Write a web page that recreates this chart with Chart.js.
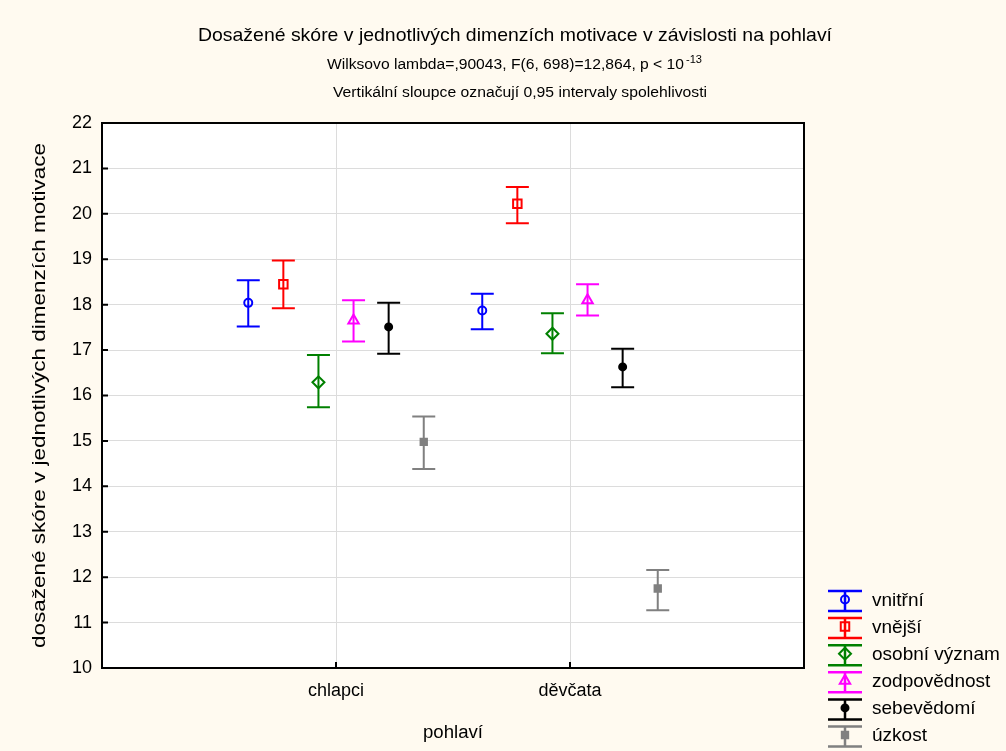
<!doctype html>
<html lang="cs">
<head>
<meta charset="utf-8">
<script src="https://cdn.jsdelivr.net/npm/chart.js"></script>
<style>
    html, body { margin: 0; padding: 0; background: #fffaf0; }
</style>
</head>
<body>
<canvas id="scoreChart" width="1006" height="751"></canvas>
<script>
    // data
    const groups = ['chlapci', 'děvčata'];
    const seriesNames = ['vnitřní', 'vnější', 'osobní význam', 'zodpovědnost', 'sebevědomí', 'úzkost'];
    const meanValues = [
        [18.04, 17.87],
        [18.45, 20.22],
        [16.29, 17.36],
        [17.65, 18.10],
        [17.51, 16.63],
        [14.98, 11.75]
    ];
    const lowerCI = [
        [17.52, 17.46],
        [17.92, 19.79],
        [15.74, 16.93],
        [17.19, 17.76],
        [16.92, 16.18],
        [14.38, 11.27]
    ];
    const upperCI = [
        [18.54, 18.24],
        [18.97, 20.59],
        [16.89, 17.81],
        [18.10, 18.45],
        [18.04, 17.03],
        [15.54, 12.16]
    ];
    const yMin = 10, yMax = 22;

    const seriesColors = ['#0000ff', '#ff0000', '#008000', '#ff00ff', '#000000', '#808080'];
    const seriesStyles = ['circle', 'rect', 'rectRot', 'triangle', 'circle', 'rect'];
    const seriesRadius = [4, 6, 6, 6, 3.5, 4.5];
    const seriesFilled = [false, false, false, false, true, true];

    const FONT = '"Liberation Sans", Arial, sans-serif';
    const spacing = 0.15;

    const datasets = seriesNames.map((name, i) => ({
        label: name,
        data: groups.map((g, j) => ({
            x: j + 1 + (i - (seriesNames.length - 1) / 2) * spacing,
            y: meanValues[i][j]
        })),
        borderColor: seriesColors[i],
        backgroundColor: seriesFilled[i] ? seriesColors[i] : 'rgba(0,0,0,0)',
        pointStyle: seriesStyles[i],
        pointRadius: seriesRadius[i],
        pointBorderWidth: 2,
        showLine: false
    }));

    // text squeezed to a given width
    function fitText(ctx, text, x, y, width, align) {
        const w = ctx.measureText(text).width;
        ctx.save();
        ctx.translate(x, y);
        ctx.scale(width / w, 1);
        ctx.textAlign = align;
        ctx.fillText(text, 0, 0);
        ctx.restore();
    }

    const background = {
        id: 'background',
        beforeDraw(chart) {
            const { ctx, chartArea: a } = chart;
            ctx.save();
            ctx.fillStyle = '#fffaf0';
            ctx.fillRect(0, 0, chart.width, chart.height);
            ctx.fillStyle = '#ffffff';
            ctx.fillRect(a.left, a.top, a.right - a.left, a.bottom - a.top);
            ctx.restore();
        }
    };

    const errorBars = {
        id: 'errorBars',
        beforeDatasetsDraw(chart) {
            const { ctx, scales: { x, y } } = chart;
            ctx.save();
            ctx.lineWidth = 2;
            chart.data.datasets.forEach((ds, i) => {
                ctx.strokeStyle = ds.borderColor;
                ds.data.forEach((pt, j) => {
                    const px = x.getPixelForValue(pt.x);
                    const lo = y.getPixelForValue(lowerCI[i][j]);
                    const hi = y.getPixelForValue(upperCI[i][j]);
                    ctx.beginPath();
                    ctx.moveTo(px, lo); ctx.lineTo(px, hi);
                    ctx.moveTo(px - 11.5, lo); ctx.lineTo(px + 11.5, lo);
                    ctx.moveTo(px - 11.5, hi); ctx.lineTo(px + 11.5, hi);
                    ctx.stroke();
                });
            });
            ctx.restore();
        }
    };

    const decorations = {
        id: 'decorations',
        afterDraw(chart) {
            const { ctx, chartArea: a, scales: { x, y } } = chart;
            ctx.save();
            // frame + inner ticks
            ctx.strokeStyle = '#000';
            ctx.lineWidth = 2;
            ctx.strokeRect(a.left, a.top, a.right - a.left, a.bottom - a.top);
            ctx.beginPath();
            for (let v = yMin; v <= yMax; v++) {
                const py = y.getPixelForValue(v);
                ctx.moveTo(a.left, py); ctx.lineTo(a.left + 6, py);
            }
            groups.forEach((g, j) => {
                const px = x.getPixelForValue(j + 1);
                ctx.moveTo(px, a.bottom); ctx.lineTo(px, a.bottom - 6);
            });
            ctx.stroke();

            // titles
            ctx.fillStyle = '#000';
            ctx.textBaseline = 'middle';
            ctx.font = '19px ' + FONT;
            fitText(ctx, 'Dosažené skóre v jednotlivých dimenzích motivace v závislosti na pohlaví', 515, 35.5, 634, 'center');
            ctx.font = '14px ' + FONT;
            fitText(ctx, 'Wilksovo lambda=,90043, F(6, 698)=12,864, p < 10', 327, 65, 357, 'left');
            ctx.font = '10px ' + FONT;
            fitText(ctx, '-13', 686, 60, 16, 'left');
            ctx.font = '14px ' + FONT;
            fitText(ctx, 'Vertikální sloupce označují 0,95 intervaly spolehlivosti', 333, 93, 374, 'left');

            // axis titles
            ctx.font = '18px ' + FONT;
            ctx.save();
            ctx.translate(40, 395.5);
            ctx.rotate(-Math.PI / 2);
            fitText(ctx, 'dosažené skóre v jednotlivých dimenzích motivace', 0, 0, 505, 'center');
            ctx.restore();
            ctx.font = '18px ' + FONT;
            fitText(ctx, 'pohlaví', 453, 733, 60, 'center');

            // legend
            chart.data.datasets.forEach((ds, i) => {
                const cy = 599.5 + i * 27.1;
                ctx.strokeStyle = ds.borderColor;
                ctx.lineWidth = 2.5;
                ctx.beginPath();
                ctx.moveTo(828, cy - 8.5); ctx.lineTo(862, cy - 8.5);
                ctx.moveTo(828, cy + 11.5); ctx.lineTo(862, cy + 11.5);
                ctx.moveTo(845, cy - 8.5); ctx.lineTo(845, cy + 11.5);
                ctx.stroke();
                ctx.fillStyle = ds.backgroundColor;
                ctx.lineWidth = 2;
                Chart.helpers.drawPoint(ctx, {
                    pointStyle: ds.pointStyle,
                    radius: ds.pointRadius,
                    rotation: 0,
                    borderWidth: 2
                }, 845, cy);
                ctx.fillStyle = '#000';
                ctx.font = '19px ' + FONT;
                ctx.textAlign = 'left';
                ctx.fillText(ds.label, 872, cy + 1);
            });
            ctx.restore();
        }
    };

    new Chart(document.getElementById('scoreChart'), {
        type: 'scatter',
        data: { datasets: datasets },
        options: {
            responsive: false,
            animation: false,
            layout: { padding: { top: 123, right: 202, bottom: 0, left: 0 } },
            plugins: {
                legend: { display: false },
                tooltip: { enabled: false }
            },
            scales: {
                x: {
                    type: 'linear',
                    min: 0,
                    max: 3,
                    afterBuildTicks: s => { s.ticks = groups.map((g, j) => ({ value: j + 1 })); },
                    afterFit: s => { s.height = 83; },
                    ticks: {
                        callback: (v, idx) => groups[idx],
                        font: { family: FONT, size: 18 },
                        color: '#000',
                        padding: 12,
                        maxRotation: 0,
                        autoSkip: false
                    },
                    grid: { color: '#dcdcdc', drawTicks: false },
                    border: { display: false }
                },
                y: {
                    min: yMin,
                    max: yMax,
                    afterFit: s => { s.width = 102; },
                    ticks: {
                        stepSize: 1,
                        font: { family: FONT, size: 18 },
                        color: '#000',
                        padding: 10
                    },
                    grid: { color: '#dcdcdc', drawTicks: false },
                    border: { display: false }
                }
            }
        },
        plugins: [background, errorBars, decorations]
    });
</script>
</body>
</html>
